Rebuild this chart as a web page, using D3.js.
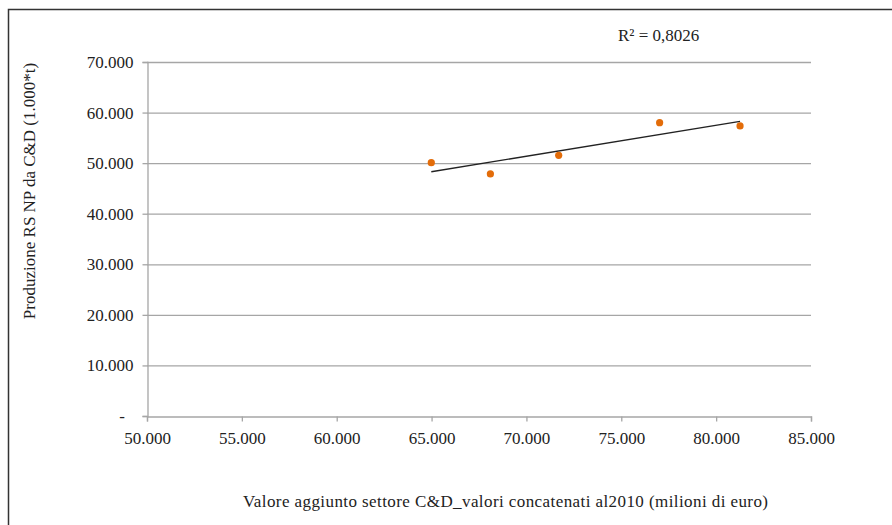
<!DOCTYPE html>
<html>
<head>
  <meta charset="utf-8">
  <script src="https://d3js.org/d3.v7.min.js"></script>
  <style>
  body { margin: 0; background: #fff; }
  </style>
</head>
<body>
<div id="chart"></div>
<script>
// valore aggiunto (milioni di euro) vs produzione RS NP (1.000*t)
var valoreAggiunto = [64985, 68100, 71700, 77020, 81260];
var produzione = [50090, 47860, 51550, 58000, 57350];
var xTicks = [50000, 55000, 60000, 65000, 70000, 75000, 80000, 85000];
var yTicks = [0, 10000, 20000, 30000, 40000, 50000, 60000, 70000];
var r2Label = "R² = 0,8026";

var W = 892, H = 525;
var FONT = "'Liberation Serif'";
var FS = "17px";
var svg = d3.select("#chart").append("svg")
  .attr("width", W).attr("height", H);

// frame of the chart area
svg.append("path")
  .attr("d", "M8.5," + H + "V9.5H" + W)
  .attr("fill", "none").attr("stroke", "#333").attr("stroke-width", 1.5);

var x = d3.scaleLinear().domain([50000, 85000]).range([147, 811]);
var y = d3.scaleLinear().domain([0, 70000]).range([416, 62]);

var fmt = function(d) {
  if (d === 0) return "-\u00a0\u00a0";
  return d3.format(",")(d).replace(/,/g, ".");
};

// gridlines
svg.append("g").selectAll("line").data(yTicks.slice(1)).join("line")
  .attr("x1", x(50000)).attr("x2", x(85000))
  .attr("y1", function(d) { return y(d) + 0.5; })
  .attr("y2", function(d) { return y(d) + 0.5; })
  .attr("stroke", "#a6a6a6").attr("stroke-width", 1.3);

var yAxis = svg.append("g").attr("transform", "translate(" + (x(50000) + 0.5) + ",0)")
  .call(d3.axisLeft(y).tickValues(yTicks).tickFormat(fmt).tickSize(5).tickPadding(9));
var xAxis = svg.append("g").attr("transform", "translate(0," + (y(0) + 0.5) + ")")
  .call(d3.axisBottom(x).tickValues(xTicks).tickFormat(fmt).tickSize(5).tickPadding(10));

[yAxis, xAxis].forEach(function(a) {
  a.attr("font-family", null).attr("font-size", null);
  a.select(".domain").attr("stroke", "#a6a6a6").attr("stroke-width", 1.3);
  a.selectAll(".tick line").attr("stroke", "#a6a6a6").attr("stroke-width", 1.3);
  a.selectAll(".tick text").style("font-family", FONT)
    .style("font-size", FS).attr("fill", "#222");
});

// linear trendline (least squares)
var n = valoreAggiunto.length;
var mx = d3.mean(valoreAggiunto), my = d3.mean(produzione);
var sxy = 0, sxx = 0;
for (var i = 0; i < n; i++) {
  sxy += (valoreAggiunto[i] - mx) * (produzione[i] - my);
  sxx += (valoreAggiunto[i] - mx) * (valoreAggiunto[i] - mx);
}
var slope = sxy / sxx, icpt = my - slope * mx;
var x0 = d3.min(valoreAggiunto), x1 = d3.max(valoreAggiunto);
svg.append("line")
  .attr("x1", x(x0)).attr("y1", y(icpt + slope * x0))
  .attr("x2", x(x1)).attr("y2", y(icpt + slope * x1))
  .attr("stroke", "#222").attr("stroke-width", 1.3);

svg.append("g").selectAll("circle").data(valoreAggiunto).join("circle")
  .attr("cx", function(d) { return x(d); })
  .attr("cy", function(d, i) { return y(produzione[i]); })
  .attr("r", 3.6)
  .attr("fill", "#e36c09");

svg.append("text").attr("x", 618).attr("y", 41)
  .style("font-family", FONT).style("font-size", FS)
  .attr("fill", "#222").text(r2Label);

svg.append("text")
  .attr("transform", "translate(35,191) rotate(-90)")
  .attr("text-anchor", "middle")
  .style("font-family", FONT).style("font-size", FS)
  .attr("fill", "#222")
  .text("Produzione RS NP da C&D (1.000*t)");

svg.append("text")
  .attr("x", 243).attr("y", 507)
  .attr("textLength", 525).attr("lengthAdjust", "spacing")
  .style("font-family", FONT).style("font-size", FS)
  .attr("fill", "#222")
  .text("Valore aggiunto settore C&D_valori concatenati al2010 (milioni di euro)");
</script>
</body>
</html>
